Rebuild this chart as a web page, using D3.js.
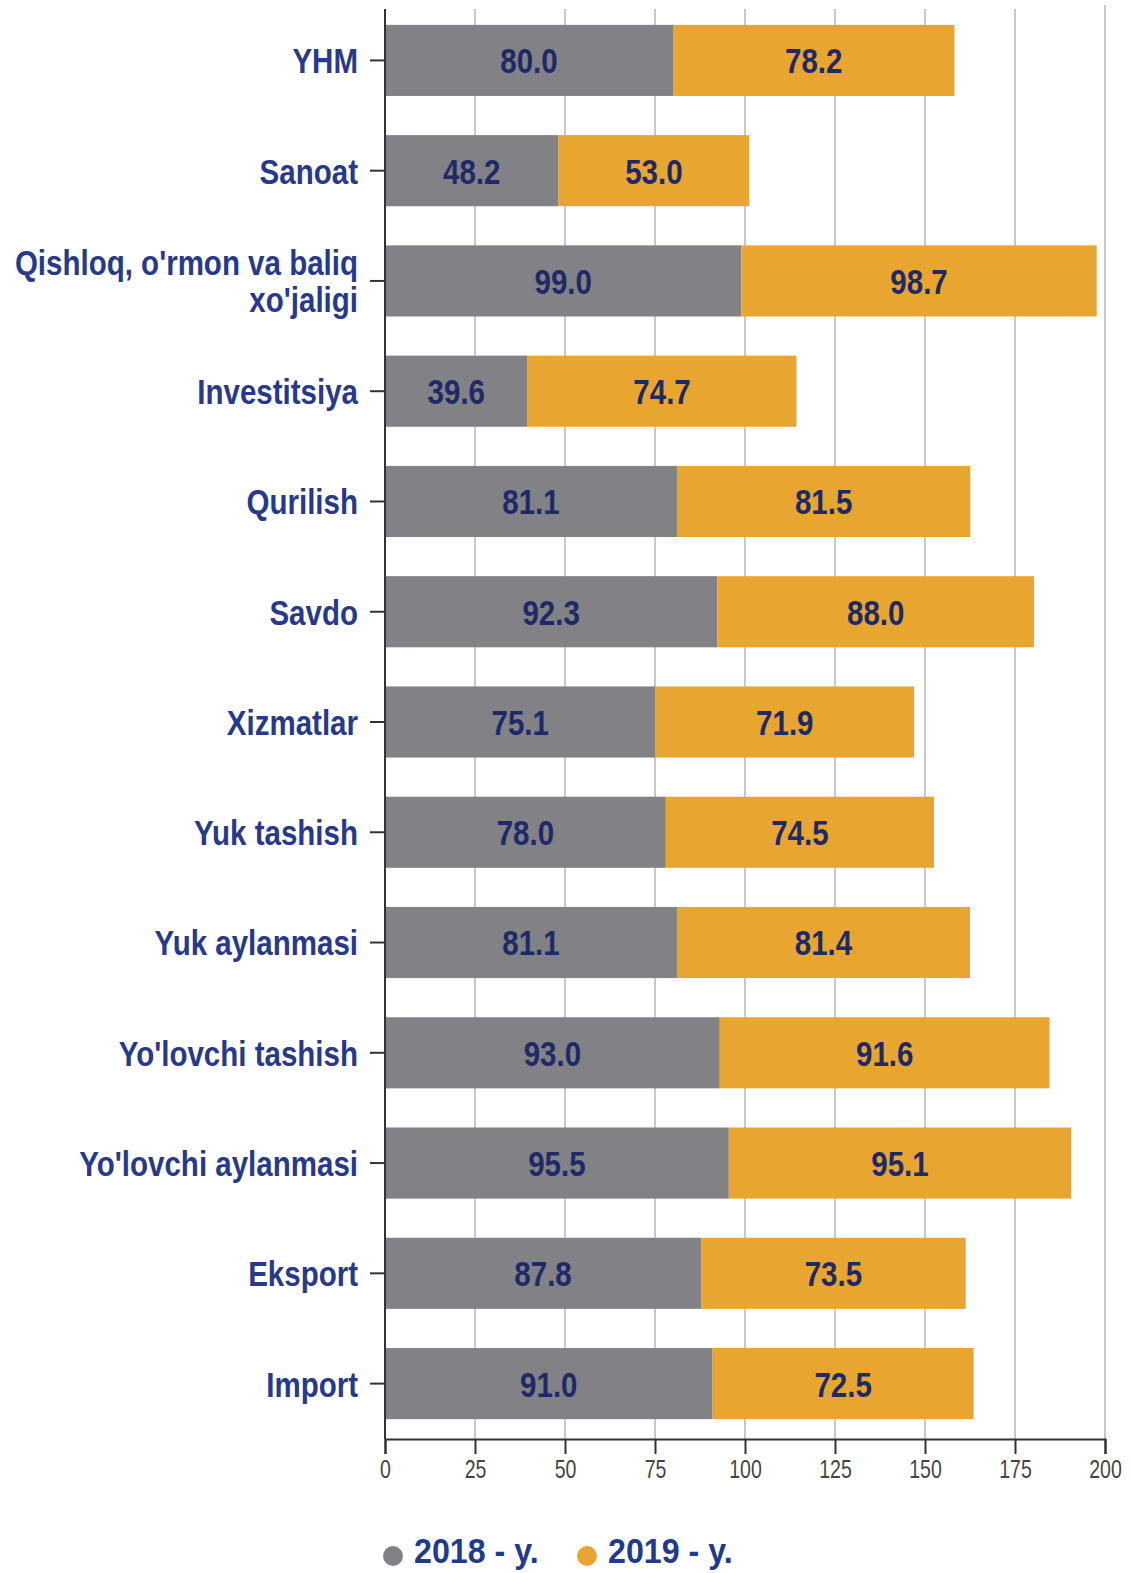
<!DOCTYPE html>
<html lang="uz">
<head>
<meta charset="UTF-8">
<script src="https://d3js.org/d3.v7.min.js"></script>
<style>
    body { margin: 0; background: #fff; }
    svg text { font-family: "Liberation Sans", Arial, sans-serif; }
</style>
</head>
<body>
<svg id="chart" width="1131" height="1573"></svg>
<script>
// ma'lumotlar
const categories = [
    ["YHM"], ["Sanoat"], ["Qishloq, o'rmon va baliq", "xo'jaligi"], ["Investitsiya"],
    ["Qurilish"], ["Savdo"], ["Xizmatlar"], ["Yuk tashish"], ["Yuk aylanmasi"],
    ["Yo'lovchi tashish"], ["Yo'lovchi aylanmasi"], ["Eksport"], ["Import"]
];
const values2018 = [80.0, 48.2, 99.0, 39.6, 81.1, 92.3, 75.1, 78.0, 81.1, 93.0, 95.5, 87.8, 91.0];
const values2019 = [78.2, 53.0, 98.7, 74.7, 81.5, 88.0, 71.9, 74.5, 81.4, 91.6, 95.1, 73.5, 72.5];
const seriesNames = ["2018 - y.", "2019 - y."];
const xTicks = [0, 25, 50, 75, 100, 125, 150, 175, 200];

const colors = ["#818186", "#e8a631"];
const labelColor = "#27398c";
const valueColor = "#1e2a68";
const narrow = 0.82; // Arial Narrow taqlidi

const svg = d3.select("#chart");
const margin = { top: 5, left: 385, right: 26, bottom: 134 };
const W = 1131, H = 1573;

const keys = categories.map((c, i) => i);

const x = d3.scaleLinear().domain([0, 200]).range([margin.left, W - margin.right]);
const y = d3.scaleBand().domain(keys)
    .range([margin.top, H - margin.bottom])
    .paddingInner(0.355).paddingOuter(0.18);

// tor matn: g ichida scaleX
function narrowText(sel, px, py, sx) {
    const g = sel.append("g").attr("transform", `translate(${px},${py}) scale(${sx},1)`);
    return g.append("text");
}

// vertikal setka
svg.append("g")
    .selectAll("line")
    .data(xTicks.slice(1))
    .join("line")
    .attr("x1", d => x(d)).attr("x2", d => x(d))
    .attr("y1", d => d === 200 ? 5 : 9)
    .attr("y2", H - margin.bottom)
    .attr("stroke", "#c9c9c9")
    .attr("stroke-width", 2);

const rows = keys.map(i => ({ i, a: values2018[i], b: values2019[i] }));

// 2018 ustunlar
svg.append("g").selectAll("rect")
    .data(rows).join("rect")
    .attr("x", x(0))
    .attr("y", d => y(d.i))
    .attr("width", d => x(d.a) - x(0))
    .attr("height", y.bandwidth())
    .attr("fill", colors[0]);

// 2019 ustunlar
svg.append("g").selectAll("rect")
    .data(rows).join("rect")
    .attr("x", d => x(d.a))
    .attr("y", d => y(d.i))
    .attr("width", d => x(d.a + d.b) - x(d.a))
    .attr("height", y.bandwidth())
    .attr("fill", colors[1]);

// qiymatlar
const vals = svg.append("g");
rows.forEach(d => {
    const cy = y(d.i) + y.bandwidth() / 2;
    [[d.a / 2, d.a], [d.a + d.b / 2, d.b]].forEach(([pos, v]) => {
        narrowText(vals, x(pos), cy, narrow)
            .attr("font-size", 36)
            .attr("font-weight", "bold")
            .attr("fill", valueColor)
            .attr("text-anchor", "middle")
            .attr("dy", "0.36em")
            .text(v.toFixed(1));
    });
});

// y o'qi
const yAxis = svg.append("g")
    .attr("transform", `translate(${margin.left},0)`)
    .call(d3.axisLeft(y).tickSize(15).tickFormat(""));
yAxis.select(".domain").attr("stroke", "#333").attr("stroke-width", 2)
    .attr("d", `M0,9V${H - margin.bottom}`);
yAxis.selectAll(".tick line").attr("stroke", "#333").attr("stroke-width", 2);

yAxis.selectAll(".tick").each(function (i) {
    const lines = categories[i];
    const t = narrowText(d3.select(this), -27, 0, narrow)
        .attr("fill", labelColor)
        .attr("font-size", 36)
        .attr("font-weight", "bold")
        .attr("text-anchor", "end");
    lines.forEach((ln, k) => {
        t.append("tspan")
            .attr("x", 0)
            .attr("y", (k - (lines.length - 1) / 2) * 37)
            .attr("dy", "0.36em")
            .text(ln);
    });
});

// x o'qi
const xAxis = svg.append("g")
    .attr("transform", `translate(0,${H - margin.bottom})`)
    .call(d3.axisBottom(x).tickValues(xTicks).tickSize(15).tickFormat(""));
xAxis.select(".domain").attr("stroke", "#333").attr("stroke-width", 2);
xAxis.selectAll(".tick line").attr("stroke", "#333").attr("stroke-width", 2);
xAxis.selectAll(".tick").each(function (d) {
    narrowText(d3.select(this), 0, 30, 0.78)
        .attr("font-size", 25)
        .attr("fill", "#444")
        .attr("text-anchor", "middle")
        .attr("dy", "0.36em")
        .text(d);
});

// legend
const legend = svg.append("g").attr("transform", "translate(393,1556)");
const item = legend.selectAll("g")
    .data(seriesNames)
    .join("g")
    .attr("transform", (d, i) => `translate(${i * 194},0)`);
item.append("circle").attr("r", 10).attr("fill", (d, i) => colors[i]);
item.each(function (d) {
    narrowText(d3.select(this), 21, 7, 0.92)
        .attr("font-size", 35)
        .attr("font-weight", "bold")
        .attr("fill", "#203a8c")
        .text(d);
});
</script>
</body>
</html>
